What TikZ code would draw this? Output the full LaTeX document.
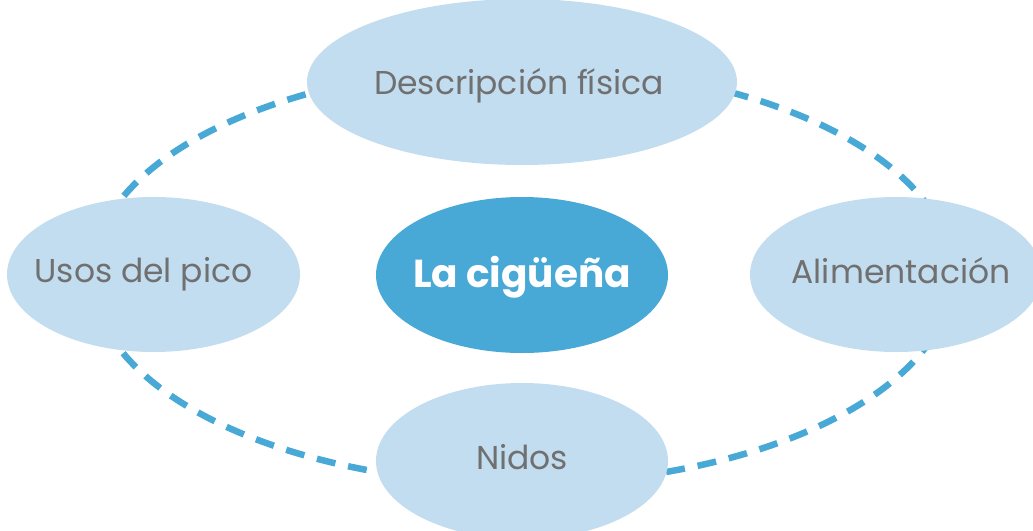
\documentclass[tikz,border=0pt]{standalone}
\usepackage{fontspec}
\setmainfont{Poppins}
\usetikzlibrary{shapes.geometric}
\definecolor{lightblue}{RGB}{195,221,240}
\definecolor{midblue}{RGB}{72,168,214}
\definecolor{txtgray}{RGB}{112,112,112}
\tikzset{
  topic/.style={ellipse, fill=lightblue, draw=none, inner sep=0pt,
    text=txtgray, font=\fontsize{33}{40}\selectfont},
  hub/.style={ellipse, fill=midblue, draw=none, inner sep=0pt,
    text=white, font=\bfseries\fontsize{39}{46}\selectfont},
  ring/.style={draw=midblue, line width=6.5pt, dash pattern=on 19pt off 13pt}
}
% zero-size text box: horizontal shift, baseline offset, text
\newcommand{\ztext}[3]{\makebox[0pt]{\hspace*{#1}\raisebox{#2}[0pt][0pt]{#3}}}
\begin{document}
\begin{tikzpicture}[x=1pt,y=-1pt]
\useasboundingbox (0,0) rectangle (1033,530);
\clip (0,0) rectangle (1033,530);
\coordinate (mid) at (522,275);
\draw[ring] (mid) ellipse [x radius=430pt, y radius=209pt];
\node[topic, minimum width=430pt, minimum height=166pt] (desc) at (522,82) {\ztext{-6pt}{-12pt}{Descripción física}};
\node[topic, minimum width=293pt, minimum height=155pt] (usos) at (153.5,274.5) {\ztext{-20pt}{-7.5pt}{Usos del pico}};
\node[topic, minimum width=292pt, minimum height=155pt] (alim) at (896,274.5) {\ztext{10pt}{-8.5pt}{Alimentación}};
\node[topic, minimum width=292pt, minimum height=156pt] (nidos) at (522,461) {\ztext{0pt}{-8.5pt}{Nidos}};
\node[hub, minimum width=292pt, minimum height=156pt] (hubnode) at (mid) {\ztext{0pt}{-12pt}{La cigüeña}};
\end{tikzpicture}
\end{document}
